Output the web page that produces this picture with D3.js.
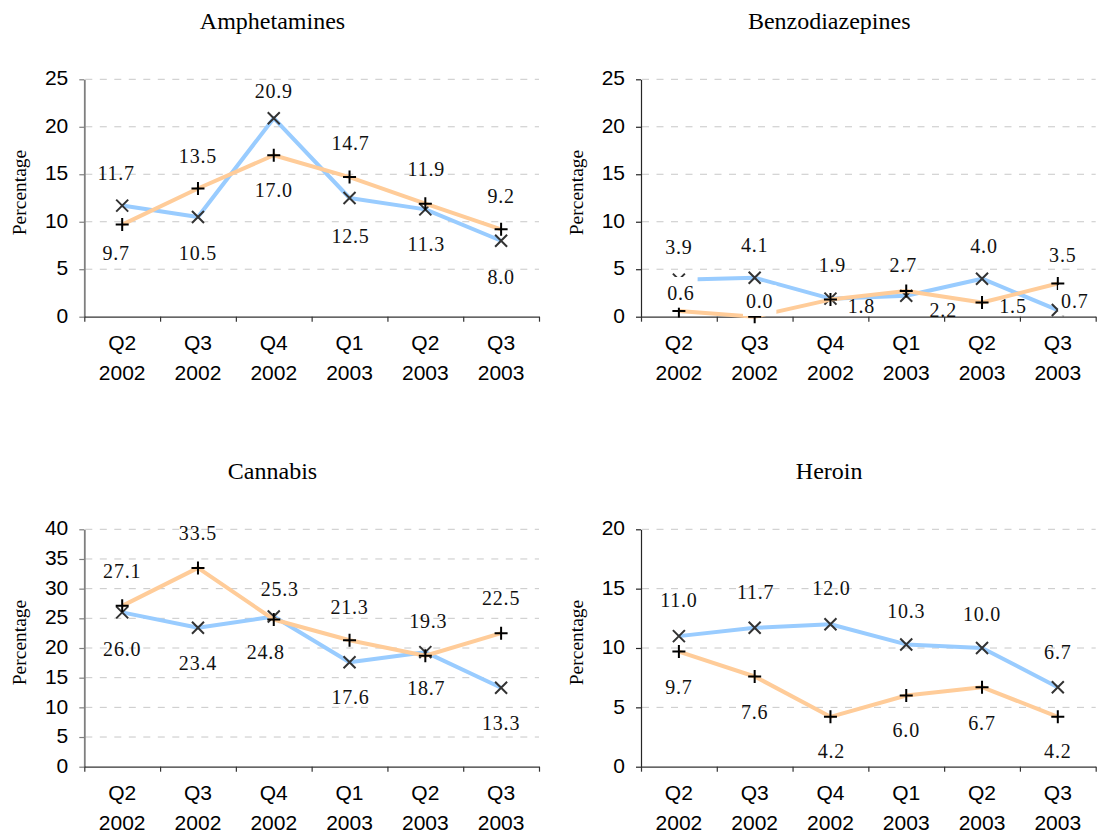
<!DOCTYPE html>
<html>
<head>
<meta charset="utf-8">
<script src="https://cdn.jsdelivr.net/npm/d3@7"></script>
<style>
  html, body { margin: 0; padding: 0; background: #ffffff; }
  svg { display: block; }
</style>
</head>
<body>
<script>
// ---- Data ----
const quarters = ["Q2", "Q3", "Q4", "Q1", "Q2", "Q3"];
const years = ["2002", "2002", "2002", "2003", "2003", "2003"];

const amphetaminesBlue   = [11.7, 10.5, 20.9, 12.5, 11.3, 8.0];
const amphetaminesOrange = [9.7, 13.5, 17.0, 14.7, 11.9, 9.2];

const benzodiazepinesBlue   = [3.9, 4.1, 1.9, 2.2, 4.0, 0.7];
const benzodiazepinesOrange = [0.6, 0.0, 1.8, 2.7, 1.5, 3.5];

const cannabisBlue   = [26.0, 23.4, 25.3, 17.6, 19.3, 13.3];
const cannabisOrange = [27.1, 33.5, 24.8, 21.3, 18.7, 22.5];

const heroinBlue   = [11.0, 11.7, 12.0, 10.3, 10.0, 6.7];
const heroinOrange = [9.7, 7.6, 4.2, 6.0, 6.7, 4.2];

const panelTitles = ["Amphetamines", "Benzodiazepines", "Cannabis", "Heroin"];
const axisMax = [25, 25, 40, 20];
const axisStep = 5;

// ---- Layout ----
const W = 1098, H = 837;
const panelOrigins = [[0, 0], [556.7, 0], [0, 450], [556.7, 450]];
const plot = { left: 84.3, right: 539, top: 79.3, bottom: 316.7 };
const serif = "'Liberation Serif', 'Times New Roman', serif";
const sans = "'Liberation Sans', Arial, sans-serif";
const blueColor = "#99ccff";
const orangeColor = "#ffcc99";

// Value-label placement relative to each point: [dx, dy(baseline), boxed]
const labelPlacement = [
  { blue:   [[-6,-26],[0,43],[0,-20],[1,45],[1,42],[0,43]],
    orange: [[-6,35],[0,-26],[0,41.5],[1,-27],[1,-27.6],[0,-26.6]] },
  { blue:   [[0,-26],[0,-26],[2,-27],[37,21],[2,-26],[17,-2,true]],
    orange: [[2,-11,true],[5,-8.4,true],[31,13.7],[-3,-19.4],[31,11],[5,-21]] },
  { blue:   [[0,44],[0,42],[6,-20.5],[1,42],[3,-24],[0,42]],
    orange: [[0,-27.6],[0,-28],[-8,39],[0,-26.3],[1,39.3],[0,-28.2]] },
  { blue:   [[0,-29.5],[1,-28.4],[1,-28.8],[0,-26.8],[0,-27],[0,-28]],
    orange: [[0,42.7],[0,42.7],[1,41.4],[0,42],[0,42.6],[0,41.4]] }
];

const panelSeries = [
  [amphetaminesBlue, amphetaminesOrange],
  [benzodiazepinesBlue, benzodiazepinesOrange],
  [cannabisBlue, cannabisOrange],
  [heroinBlue, heroinOrange]
];

const svg = d3.select("body").append("svg")
  .attr("width", W).attr("height", H)
  .attr("viewBox", `0 0 ${W} ${H}`);

panelTitles.forEach((title, p) => {
  const [ox, oy] = panelOrigins[p];
  const isLeft = p % 2 === 0;
  const axisColor = isLeft ? "#7f7f7f" : "#262626";
  const axisWidth = isLeft ? 1.8 : 1.2;
  const g = svg.append("g").attr("transform", `translate(${ox},${oy})`);

  const x = d3.scaleBand().domain(d3.range(quarters.length))
    .range([plot.left, plot.right]).padding(0);
  const cx = i => x(i) + x.bandwidth() / 2;
  const y = d3.scaleLinear().domain([0, axisMax[p]]).range([plot.bottom, plot.top]);
  const ticks = d3.range(0, axisMax[p] + 0.001, axisStep);

  // Title
  g.append("text")
    .attr("x", 272.5).attr("y", 29.3)
    .attr("text-anchor", "middle")
    .style("font-family", serif).style("font-size", "24px").attr("fill", "#000")
    .text(title);

  // Y-axis title
  g.append("text")
    .attr("transform", `translate(26,192.5) rotate(-90)`)
    .attr("text-anchor", "middle")
    .style("font-family", serif).style("font-size", "19.5px").attr("fill", "#000")
    .text("Percentage");

  // Gridlines
  g.append("g").selectAll("line")
    .data(ticks.filter(t => t > 0))
    .join("line")
    .attr("x1", plot.left + 1).attr("x2", plot.right)
    .attr("y1", d => y(d)).attr("y2", d => y(d))
    .attr("stroke", "#c8c8c8").attr("stroke-width", 1)
    .attr("stroke-dasharray", "7,7.5");

  // Y axis
  const yAxis = g.append("g")
    .attr("transform", `translate(${plot.left},0)`)
    .call(d3.axisLeft(y).tickValues(ticks).tickSize(5).tickSizeOuter(0).tickPadding(11));
  yAxis.select(".domain").attr("stroke", axisColor).attr("stroke-width", axisWidth);
  yAxis.selectAll(".tick line").attr("stroke", axisColor).attr("stroke-width", 1.2);
  yAxis.selectAll(".tick text")
    .attr("dy", "0.27em")
    .style("font-family", sans).style("font-size", "21px").attr("fill", "#000");

  // X axis: category boundaries as ticks
  const xEdge = d3.scaleLinear().domain([0, quarters.length]).range([plot.left, plot.right]);
  const xAxis = g.append("g")
    .attr("transform", `translate(0,${plot.bottom})`)
    .call(d3.axisBottom(xEdge).tickValues(d3.range(quarters.length + 1))
      .tickSize(5).tickSizeOuter(0).tickFormat(""));
  xAxis.select(".domain").attr("stroke", "#333").attr("stroke-width", 1.2);
  xAxis.selectAll(".tick line").attr("stroke", "#333").attr("stroke-width", 1.2);

  // Category labels (two lines)
  const cat = g.append("g").selectAll("text")
    .data(quarters)
    .join("text")
    .attr("text-anchor", "middle")
    .style("font-family", sans).style("font-size", "21px").attr("fill", "#000");
  cat.append("tspan").attr("x", (d, i) => cx(i)).attr("y", plot.bottom + 33).text(d => d);
  cat.append("tspan").attr("x", (d, i) => cx(i)).attr("y", plot.bottom + 63).text((d, i) => years[i]);

  const line = d3.line().x((d, i) => cx(i)).y(d => y(d));
  const [blueVals, orangeVals] = panelSeries[p];

  // Blue series with X markers
  g.append("path").datum(blueVals)
    .attr("d", line).attr("fill", "none")
    .attr("stroke", blueColor).attr("stroke-width", 4).attr("stroke-linejoin", "round");
  g.append("g").selectAll("path")
    .data(blueVals).join("path")
    .attr("transform", (d, i) => `translate(${cx(i)},${y(d)})`)
    .attr("d", "M-6,-6L6,6M-6,6L6,-6")
    .attr("stroke", "#333").attr("stroke-width", 2).attr("fill", "none");

  // Orange series with + markers
  g.append("path").datum(orangeVals)
    .attr("d", line).attr("fill", "none")
    .attr("stroke", orangeColor).attr("stroke-width", 4).attr("stroke-linejoin", "round");
  g.append("g").selectAll("path")
    .data(orangeVals).join("path")
    .attr("transform", (d, i) => `translate(${cx(i)},${y(d)})`)
    .attr("d", "M-6.5,0H6.5M0,-6.5V6.5")
    .attr("stroke", "#000").attr("stroke-width", 2).attr("fill", "none");

  // Value labels
  const labelLayer = g.append("g");
  const addLabels = (vals, place) => {
    vals.forEach((v, i) => {
      const [dx, dy, boxed] = place[i];
      const lg = labelLayer.append("g");
      const t = lg.append("text")
        .attr("x", cx(i) + dx).attr("y", y(v) + dy)
        .attr("text-anchor", "middle")
        .style("font-family", serif).style("font-size", "20px")
        .style("letter-spacing", "0.8px").attr("fill", "#111")
        .text(v.toFixed(1));
      if (boxed) {
        const bb = t.node().getBBox();
        lg.insert("rect", "text")
          .attr("x", bb.x - 3).attr("y", y(v) + dy - 23)
          .attr("width", bb.width + 6).attr("height", 30.7)
          .attr("fill", "#fff");
      }
    });
  };
  addLabels(blueVals, labelPlacement[p].blue);
  addLabels(orangeVals, labelPlacement[p].orange);
});
</script>
</body>
</html>
